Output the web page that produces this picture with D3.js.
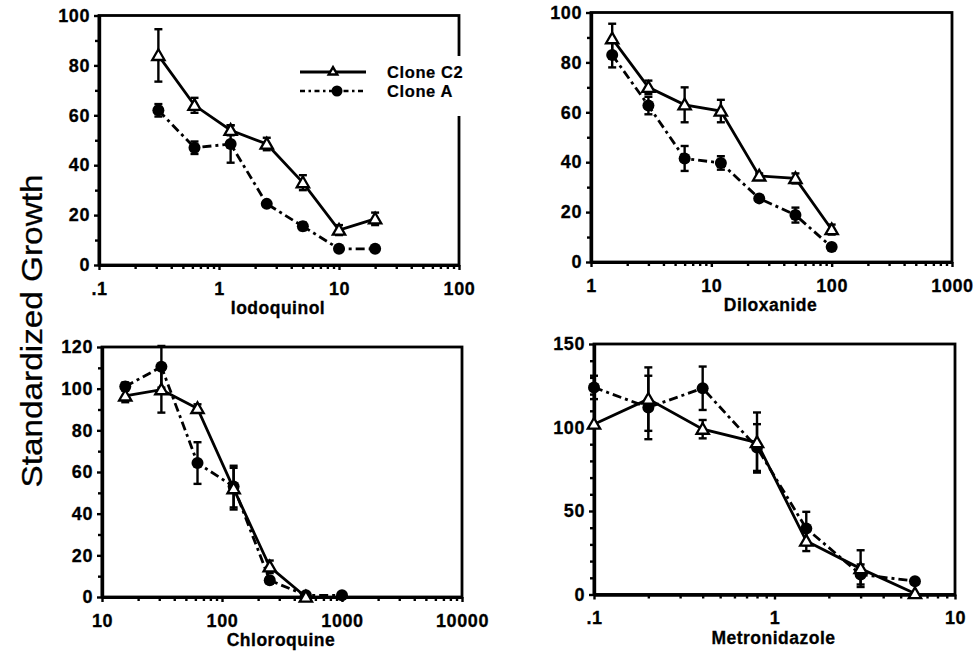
<!DOCTYPE html>
<html><head><meta charset="utf-8">
<script src="https://cdn.jsdelivr.net/npm/d3@7"></script>
<style>
body{margin:0;background:#fff}
svg{display:block}
text{font-family:"Liberation Sans",Arial,Helvetica,sans-serif;fill:#000}
</style>
</head><body>
<svg id="chart" width="976" height="651"></svg>
<script>
// ---------- DATA ----------
// Iodoquinol
const iodoX      = [0.3125, 0.625, 1.25, 2.5, 5, 10, 20];
const iodoC2     = [84, 64, 54, 48.5, 33, 14, 18.5];
const iodoC2Err  = [10.5, 3, 2, 2.5, 3, 2, 2.5];
const iodoA      = [62, 47, 48.5, 24.5, 15.5, 6.5, 6.5];
const iodoAErr   = [2.5, 2.5, 7.5, 1, 1.5, 1, 0.5];
const iodoXTicks = [0.1, 1, 10, 100];
const iodoXLabels = [".1", "1", "10", "100"];
const iodoYTicks = [0, 20, 40, 60, 80, 100];

// Diloxanide
const dilX      = [1.5, 3, 6, 12, 25, 50, 100];
const dilC2     = [89.5, 70, 63, 60.5, 34.5, 33.5, 13];
const dilC2Err  = [6, 2.7, 7, 4.5, 1, 2, 2];
const dilA      = [83, 62.7, 41.5, 39.7, 25.5, 18.8, 6];
const dilAErr   = [5, 3.5, 5, 2.7, 1, 3, 1];
const dilXTicks = [1, 10, 100, 1000];
const dilXLabels = ["1", "10", "100", "1000"];
const dilYTicks = [0, 20, 40, 60, 80, 100];

// Chloroquine
const chlX      = [15.625, 31.25, 62.5, 125, 250, 500];
const chlC2     = [96.5, 99.5, 90.5, 52, 14.5, 0];
const chlC2Err  = [3, 11, 2, 10, 3, 0.5];
const chlAX     = [15.625, 31.25, 62.5, 125, 250, 500, 1000];
const chlA      = [101, 110.5, 64.3, 53, 8, 0.8, 0.8];
const chlAErr   = [2, 10, 10, 10, 1.5, 0.5, 0.5];
const chlXTicks = [10, 100, 1000, 10000];
const chlXLabels = ["10", "100", "1000", "10000"];
const chlYTicks = [0, 20, 40, 60, 80, 100, 120];

// Metronidazole
const metX      = [0.1, 0.2, 0.4, 0.8, 1.5, 3, 6];
const metC2     = [102, 117, 99, 91, 32, 15.5, 0.6];
const metC2Err  = [0, 19, 5.5, 18, 6, 11, 0];
const metA      = [124, 112, 123.5, 88, 39.5, 12, 8];
const metAErr   = [7, 19, 13, 14, 10, 6, 0.5];
const metXTicks = [0.1, 1, 10];
const metXLabels = [".1", "1", "10"];
const metYTicks = [0, 50, 100, 150];

// ---------- LAYOUT ----------
const svg = d3.select("#chart");
const panels = [
  {title:"Iodoquinol", x0:99, x1:459, yb:265, yt:15.5, xd:[0.1,100], yd:[0,100],
   xt:iodoXTicks, xl:iodoXLabels, yt_:iodoYTicks, yMinorStep:10,
   c2x:iodoX, c2:iodoC2, c2e:iodoC2Err, ax:iodoX, a:iodoA, ae:iodoAErr},
  {title:"Diloxanide", x0:591, x1:952, yb:262, yt:12.5, xd:[1,1000], yd:[0,100],
   xt:dilXTicks, xl:dilXLabels, yt_:dilYTicks, yMinorStep:10,
   c2x:dilX, c2:dilC2, c2e:dilC2Err, ax:dilX, a:dilA, ae:dilAErr},
  {title:"Chloroquine", x0:102, x1:462, yb:597, yt:347, xd:[10,10000], yd:[0,120],
   xt:chlXTicks, xl:chlXLabels, yt_:chlYTicks, yMinorStep:10,
   c2x:chlX, c2:chlC2, c2e:chlC2Err, ax:chlAX, a:chlA, ae:chlAErr},
  {title:"Metronidazole", x0:594, x1:955, yb:594.5, yt:344, xd:[0.1,10], yd:[0,150],
   xt:metXTicks, xl:metXLabels, yt_:metYTicks, yMinorStep:10,
   c2x:metX, c2:metC2, c2e:metC2Err, ax:metX, a:metA, ae:metAErr}
];

function minorLog(domain){
  const out=[];
  for(let d=domain[0]; d<domain[1]*0.999; d*=10){
    for(let k=2;k<=9;k++) out.push(d*k);
  }
  return out;
}

const tri = d3.symbol().type(d3.symbolTriangle).size(66);
const triSmall = d3.symbol().type(d3.symbolTriangle).size(32);

panels.forEach((p,i)=>{
  const x = d3.scaleLog().domain(p.xd).range([p.x0,p.x1]);
  const y = d3.scaleLinear().domain(p.yd).range([p.yb,p.yt]);
  const g = svg.append("g");

  // frame
  g.append("rect").attr("x",p.x0).attr("y",p.yt)
    .attr("width",p.x1-p.x0).attr("height",p.yb-p.yt)
    .attr("fill","none").attr("stroke","#000").attr("stroke-width",2.8);

  // x axis major
  const xa = g.append("g").attr("transform",`translate(0,${p.yb})`)
    .call(d3.axisBottom(x).tickValues(p.xt).tickFormat((d,j)=>p.xl[j]).tickSize(5).tickSizeOuter(0).tickPadding(12));
  const xm = g.append("g").attr("transform",`translate(0,${p.yb})`)
    .call(d3.axisBottom(x).tickValues(minorLog(p.xd)).tickFormat("").tickSize(4).tickSizeOuter(0));
  // y axis
  const ya = g.append("g").attr("transform",`translate(${p.x0},0)`)
    .call(d3.axisLeft(y).tickValues(p.yt_).tickSize(5).tickSizeOuter(0).tickPadding(4));
  const minorY = d3.range(p.yd[0], p.yd[1]+0.001, p.yMinorStep).filter(v=>!p.yt_.includes(v));
  const ym = g.append("g").attr("transform",`translate(${p.x0},0)`)
    .call(d3.axisLeft(y).tickValues(minorY).tickFormat("").tickSize(4).tickSizeOuter(0));
  [xa,xm,ya,ym].forEach(a=>{
    a.select(".domain").attr("stroke","#000").attr("stroke-width",3.2);
    a.selectAll(".tick line").attr("stroke","#000").attr("stroke-width",2.4);
    a.selectAll(".tick text").attr("font-size",18).attr("font-weight","bold")
      .attr("letter-spacing","0.6px").attr("stroke","#000").attr("stroke-width",0.3)
      .style("font-family",'"Liberation Sans",Arial,sans-serif');
  });

  // axis title
  g.append("text").attr("x",(p.x0+p.x1)/2 - 1).attr("y",p.yb+49)
    .attr("text-anchor","middle").attr("font-size",17.5).attr("font-weight","bold")
    .attr("letter-spacing","0.5px").attr("stroke","#000").attr("stroke-width",0.3).text(p.title);

  // series lines
  const lineA = d3.line().x((d,j)=>x(p.ax[j])).y(d=>y(d));
  const lineC = d3.line().x((d,j)=>x(p.c2x[j])).y(d=>y(d));
  g.append("path").attr("d",lineA(p.a)).attr("fill","none").attr("stroke","#000")
    .attr("stroke-width",2.8).attr("stroke-dasharray","9,4,3,4");
  g.append("path").attr("d",lineC(p.c2)).attr("fill","none").attr("stroke","#000")
    .attr("stroke-width",2.8);

  // error bars
  function errBars(xs, vals, errs){
    vals.forEach((v,j)=>{
      const e=errs[j]; if(!e || e<1) return;
      const cx=x(xs[j]), top=y(v+e), bot=y(v-e);
      g.append("line").attr("x1",cx).attr("x2",cx).attr("y1",top).attr("y2",bot)
        .attr("stroke","#000").attr("stroke-width",2.4);
      [top,bot].forEach(yy=>g.append("line").attr("x1",cx-4).attr("x2",cx+4)
        .attr("y1",yy).attr("y2",yy).attr("stroke","#000").attr("stroke-width",2.4));
    });
  }
  errBars(p.ax,p.a,p.ae);
  errBars(p.c2x,p.c2,p.c2e);

  // markers
  g.selectAll(null).data(p.a).enter().append("circle")
    .attr("cx",(d,j)=>x(p.ax[j])).attr("cy",d=>y(d)).attr("r",6).attr("fill","#000");
  g.selectAll(null).data(p.c2).enter().append("path")
    .attr("d",tri)
    .attr("transform",(d,j)=>`translate(${x(p.c2x[j])},${y(d)+1})`)
    .attr("fill","#fff").attr("stroke","#000").attr("stroke-width",2.3);

  // legend in first panel
  if(i===0){
    g.append("rect").attr("x",450).attr("y",56).attr("width",16).attr("height",60).attr("fill","#fff");
    g.append("line").attr("x1",300).attr("x2",366).attr("y1",72).attr("y2",72)
      .attr("stroke","#000").attr("stroke-width",2.8);
    g.append("path").attr("d",triSmall).attr("transform","translate(333,72)")
      .attr("fill","#fff").attr("stroke","#000").attr("stroke-width",2.4);
    g.append("line").attr("x1",300).attr("x2",366).attr("y1",91).attr("y2",91)
      .attr("stroke","#000").attr("stroke-width",2.6).attr("stroke-dasharray","5,3.5,2.5,3.5");
    g.append("circle").attr("cx",337).attr("cy",91).attr("r",5.5).attr("fill","#000");
    g.append("text").attr("x",387).attr("y",78).attr("font-size",16.5).attr("font-weight","bold")
      .attr("letter-spacing","0.6px").attr("stroke","#000").attr("stroke-width",0.2).text("Clone C2");
    g.append("text").attr("x",387).attr("y",97).attr("font-size",16.5).attr("font-weight","bold")
      .attr("letter-spacing","0.6px").attr("stroke","#000").attr("stroke-width",0.2).text("Clone A");
  }
});

// y title
svg.append("text").attr("transform","translate(42,331) rotate(-90)")
  .attr("text-anchor","middle").attr("font-size",29)
  .attr("textLength",313).attr("lengthAdjust","spacingAndGlyphs")
  .attr("stroke","#000").attr("stroke-width",0.3)
  .text("Standardized Growth");
</script>
</body></html>
